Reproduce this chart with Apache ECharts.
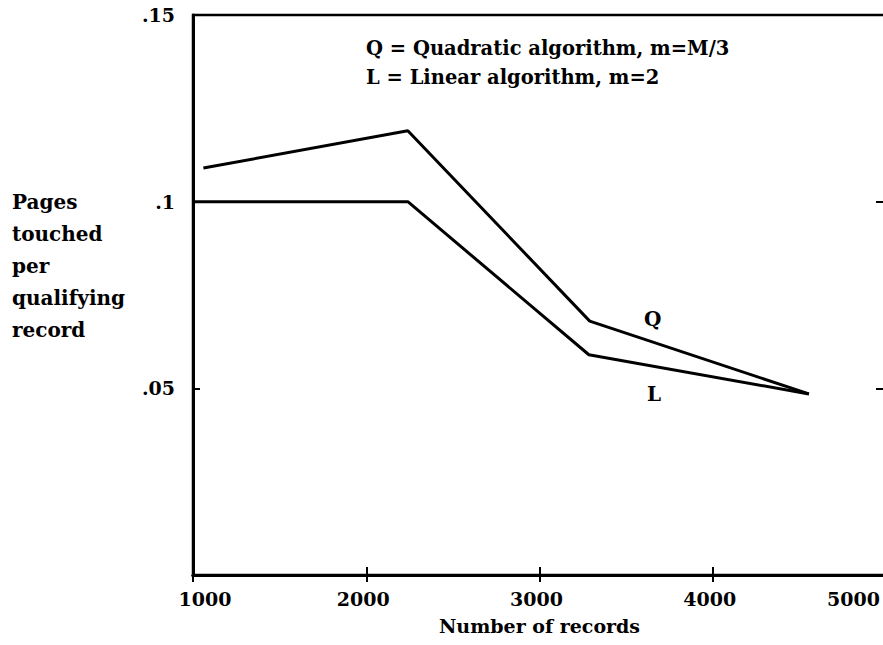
<!DOCTYPE html>
<html>
<head>
<meta charset="utf-8">
<script src="https://cdn.jsdelivr.net/npm/echarts@6/dist/echarts.min.js"></script>
<style>
  html, body { margin: 0; padding: 0; background: #fff; }
  #chart { width: 883px; height: 645px; }
</style>
</head>
<body>
<div id="chart"></div>
<script>
// 数据：每条曲线的记录数和每条合格记录触及的页数
var qRecords = [1060, 2240, 3290, 4555];
var qPages = [0.109, 0.119, 0.068, 0.0485];
var lRecords = [1000, 2240, 3285, 4555];
var lPages = [0.1, 0.1, 0.059, 0.0485];
var xTicks = [1000, 2000, 3000, 4000, 5000];
var yTickLabels = { '0.05': '.05', '0.1': '.1', '0.15': '.15' };
var legendLines = ['Q = Quadratic algorithm, m=M/3', 'L = Linear algorithm, m=2'];
var yName = ['Pages', 'touched', 'per', 'qualifying', 'record'];

var font = '"DejaVu Serif", "Liberation Serif", serif';

function pairs(xs, ys) {
    var out = [];
    for (var i = 0; i < xs.length; i++) out.push([xs[i], ys[i]]);
    return out;
}

var myChart = echarts.init(document.getElementById('chart'), null, { renderer: 'svg' });

var axisText = { color: '#000', fontFamily: font, fontWeight: 'bold', fontSize: 19 };

var option = {
    backgroundColor: '#fff',
    animation: false,
    grid: {
        left: 193,
        right: -3,
        top: 15,
        bottom: 70,
        outerBoundsMode: 'none',
        show: true,
        borderColor: '#000',
        borderWidth: 2.5
    },
    xAxis: [{
        type: 'value',
        min: xTicks[0],
        max: xTicks[xTicks.length - 1],
        interval: 1000,
        name: 'Number of records',
        nameLocation: 'middle',
        nameGap: 41,
        nameTextStyle: axisText,
        axisLine: { show: true, lineStyle: { color: '#000', width: 3 } },
        axisTick: { show: true, inside: true, length: 8, lineStyle: { color: '#000', width: 2 } },
        axisLabel: Object.assign({
            margin: 14,
            padding: [0, 6, 0, 0],
            alignMaxLabel: 'right',
            formatter: function (v) {
                // 第一个刻度标签稍微右移
                return v === xTicks[0] ? '{first|' + v + '}' : String(v);
            },
            rich: {
                first: { padding: [0, 0, 0, 30], color: '#000', fontFamily: font, fontWeight: 'bold', fontSize: 19 }
            }
        }, axisText),
        splitLine: { show: false }
    }, {
        type: 'value',
        position: 'top',
        min: xTicks[0],
        max: xTicks[xTicks.length - 1],
        interval: 1000,
        axisLine: { show: true, lineStyle: { color: '#000', width: 3 } },
        axisTick: { show: true, inside: true, length: 7, lineStyle: { color: '#000', width: 2 } },
        axisLabel: { show: false },
        splitLine: { show: false }
    }],
    yAxis: [{
        type: 'value',
        min: 0,
        max: 0.15,
        interval: 0.05,
        axisLine: { show: true, lineStyle: { color: '#000', width: 3 } },
        axisTick: { show: true, inside: true, length: 7, lineStyle: { color: '#000', width: 2 } },
        axisLabel: Object.assign({
            margin: 18,
            formatter: function (v) {
                return yTickLabels[String(Math.round(v * 100) / 100)] || '';
            }
        }, axisText),
        splitLine: { show: false }
    }, {
        type: 'value',
        position: 'right',
        min: 0,
        max: 0.15,
        interval: 0.05,
        axisLine: { show: true, lineStyle: { color: '#000', width: 1 } },
        axisTick: { show: true, inside: true, length: 10, lineStyle: { color: '#000', width: 2 } },
        axisLabel: { show: false },
        splitLine: { show: false }
    }],
    series: [{
        name: 'Q',
        type: 'line',
        data: pairs(qRecords, qPages),
        symbol: 'none',
        lineStyle: { color: '#000', width: 3 }
    }, {
        name: 'L',
        type: 'line',
        data: pairs(lRecords, lPages),
        symbol: 'none',
        lineStyle: { color: '#000', width: 3 }
    }],
    graphic: []
};

// 图例说明文字
legendLines.forEach(function (t, i) {
    option.graphic.push({
        type: 'text', left: 366, top: 38 + i * 29,
        style: { text: t, fill: '#000', font: 'bold 19.5px ' + font }
    });
});
// 纵轴名称
yName.forEach(function (t, i) {
    option.graphic.push({
        type: 'text', left: 12, top: 192 + i * 32,
        style: { text: t, fill: '#000', font: 'bold 20px ' + font }
    });
});
// 曲线标注
option.graphic.push({
    type: 'text', left: 644, top: 309,
    style: { text: 'Q', fill: '#000', font: 'bold 20px ' + font }
});
option.graphic.push({
    type: 'text', left: 647, top: 384,
    style: { text: 'L', fill: '#000', font: 'bold 20px ' + font }
});

myChart.setOption(option);
</script>
</body>
</html>
